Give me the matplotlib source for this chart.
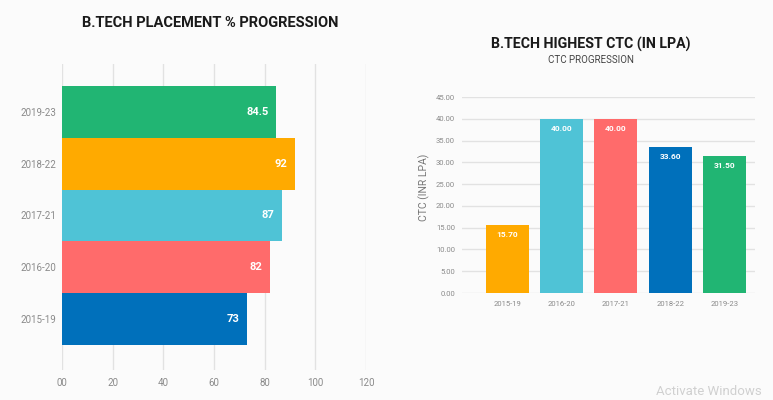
import matplotlib
matplotlib.use("Agg")
import matplotlib.pyplot as plt

plt.rcParams['font.family'] = ['Roboto', 'DejaVu Sans']

# left chart: placement %
batches = ["2015-19", "2016-20", "2017-21", "2018-22", "2019-23"]
placement = [73, 82, 87, 92, 84.5]
placement_labels = ["73", "82", "87", "92", "84.5"]
bar_colors = ["#0070BB", "#FF6B6B", "#4FC3D6", "#FFAA00", "#21B573"]
x_ticks = [0, 20, 40, 60, 80, 100, 120]
x_ticklabels = ["00", "20", "40", "60", "80", "100", "120"]

# right chart: highest CTC
ctc = [15.70, 40.00, 40.00, 33.60, 31.50]
ctc_colors = ["#FFAA00", "#4FC3D6", "#FF6B6B", "#0070BB", "#21B573"]
y_ticks = [0, 5, 10, 15, 20, 25, 30, 35, 40, 45]

tick_gray = "#8a8a8a"
grid_gray = "#e2e2e2"

fig = plt.figure(figsize=(7.73, 4.0), dpi=100)
fig.patch.set_facecolor("#fbfbfb")

# ---- left: horizontal bars
ax1 = fig.add_axes([0.0802, 0.075, 0.3933, 0.765])
ax1.set_facecolor("none")
ypos = list(range(len(batches)))
ax1.barh(ypos, placement, height=1.0, color=bar_colors, zorder=2)
for y, v, lab in zip(ypos, placement, placement_labels):
    ax1.text(v - 3, y, lab, ha="right", va="center", color="white",
             fontsize=8, fontweight="bold", zorder=3)
ax1.set_xlim(0, 120)
ax1.set_ylim(-0.98, 4.92)
ax1.set_xticks(x_ticks)
ax1.set_xticklabels(x_ticklabels)
ax1.set_yticks(ypos)
ax1.set_yticklabels(batches)
ax1.grid(axis="x", color=grid_gray, linewidth=1, zorder=0)
ax1.tick_params(length=0, labelsize=7, labelcolor=tick_gray)
ax1.tick_params(axis="x", pad=6)
ax1.tick_params(axis="y", pad=4)
for s in ax1.spines.values():
    s.set_visible(False)
fig.text(0.272, 0.943, "B.TECH PLACEMENT % PROGRESSION", ha="center", va="center",
         fontsize=10.5, fontweight="bold", color="#1a1a1a")

# ---- right: vertical bars
ax2 = fig.add_axes([0.5977, 0.2675, 0.379, 0.49])
ax2.set_facecolor("none")
xpos = list(range(len(batches)))
ax2.bar(xpos, ctc, width=0.79, color=ctc_colors, zorder=2)
for x, v in zip(xpos, ctc):
    ax2.text(x, v - 1.5, f"{v:.2f}", ha="center", va="top", color="white",
             fontsize=6, fontweight="bold", zorder=3)
ax2.set_xlim(-0.83, 4.56)
ax2.set_ylim(0, 45)
ax2.set_yticks(y_ticks)
ax2.set_yticklabels([f"{t:.2f}" for t in y_ticks])
ax2.set_xticks(xpos)
ax2.set_xticklabels(batches)
ax2.grid(axis="y", color=grid_gray, linewidth=1, zorder=0)
ax2.tick_params(length=0, labelsize=5.5, labelcolor=tick_gray)
ax2.tick_params(axis="x", pad=6)
ax2.tick_params(axis="y", pad=5)
ax2.set_ylabel("CTC (INR LPA)", fontsize=7.5, color="#777777", labelpad=6)
ax2.yaxis.set_label_coords(-0.11, 0.54)
for s in ax2.spines.values():
    s.set_visible(False)
fig.text(0.764, 0.89, "B.TECH HIGHEST CTC (IN LPA)", ha="center", va="center",
         fontsize=10.2, fontweight="bold", color="#1a1a1a")
fig.text(0.764, 0.85, "CTC PROGRESSION", ha="center", va="center",
         fontsize=7, color="#444444")

fig.text(0.985, 0.005, "Activate Windows", ha="right", va="bottom",
         fontsize=9.5, color="#d0d0d0")

fig.savefig("out.png", dpi=100, facecolor=fig.get_facecolor())
